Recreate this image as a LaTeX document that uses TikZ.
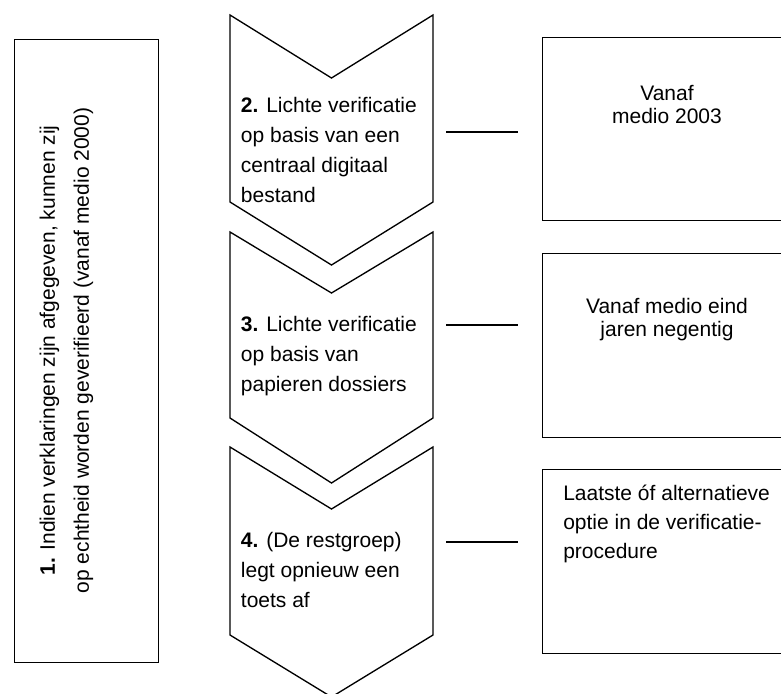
\documentclass[tikz,border=0pt]{standalone}
\usepackage{fontspec}
\setmainfont{Liberation Sans}
\usepackage{tikz}

\begin{document}
\begin{tikzpicture}[x=0.75pt,y=-0.75pt]
 \tikzstyle{chevron} = [draw=black,line width=1pt,line join=miter]
 \tikzstyle{box} = [draw=black,line width=1pt,rectangle,inner sep=0,anchor=north west]
 \tikzstyle{steptext} = [anchor=base west,inner sep=0,align=left,font=\fontsize{15.75}{22.5}\selectfont]
 \tikzstyle{periodtext} = [anchor=base,inner sep=0,align=center,font=\fontsize{15.75}{17.25}\selectfont]
 \tikzstyle{link} = [line width=1pt]

  \useasboundingbox (0,0) rectangle (781,693);

  % Chevrons
  \draw[chevron] (230,15) -- (331.5,78) -- (433,15) -- (433,202) -- (331.5,265) -- (230,202) -- cycle;
  \draw[chevron] (230,232) -- (331.5,293) -- (433,232) -- (433,418) -- (331.5,483) -- (230,418) -- cycle;
  \draw[chevron] (230,447) -- (331.5,509) -- (433,447) -- (433,635) -- (331.5,697) -- (230,635) -- cycle;

  % Left box
  \node[box,minimum width=108pt,minimum height=467.25pt] (intro) at (14,39) {};
  \node[rotate=90,inner sep=0,align=center,font=\fontsize{15.75}{25.5}\selectfont] (introtext) at (66.5,350.5)
    {\textbf{1.} Indien verklaringen zijn afgegeven, kunnen zij\\op echtheid worden geverifieerd (vanaf medio 2000)};

  % Right boxes
  \node[box,minimum width=186pt,minimum height=137.25pt] (b2) at (542,37) {};
  \node[box,minimum width=186pt,minimum height=138pt] (b3) at (542,253) {};
  \node[box,minimum width=186pt,minimum height=138pt] (b4) at (542,469) {};

  % Texts (base = last line)
  \node[steptext] (s2) at (240.7,202) {\textbf{2.} Lichte verificatie\\op basis van een\\centraal digitaal\\bestand};
  \node[steptext] (s3) at (240.7,391) {\textbf{3.} Lichte verificatie\\op basis van\\papieren dossiers};
  \node[steptext] (s4) at (240.7,607) {\textbf{4.} (De restgroep)\\legt opnieuw een\\toets af};

  \node[periodtext] (p2) at (667,123) {Vanaf\\medio 2003};
  \node[periodtext] (p3) at (667,336) {Vanaf medio eind\\jaren negentig};
  \node[steptext,font=\fontsize{15.75}{21.75}\selectfont] (p4) at (563,558) {Laatste óf alternatieve\\optie in de verificatie-\\procedure};

  % Links
  \coordinate (l2) at (446,132);
  \coordinate (l3) at (446,325);
  \coordinate (l4) at (446,542);
  \draw[link,shorten >=18pt] (l2) -- (l2 -| b2.west);
  \draw[link,shorten >=18pt] (l3) -- (l3 -| b3.west);
  \draw[link,shorten >=18pt] (l4) -- (l4 -| b4.west);

\end{tikzpicture}
\end{document}
